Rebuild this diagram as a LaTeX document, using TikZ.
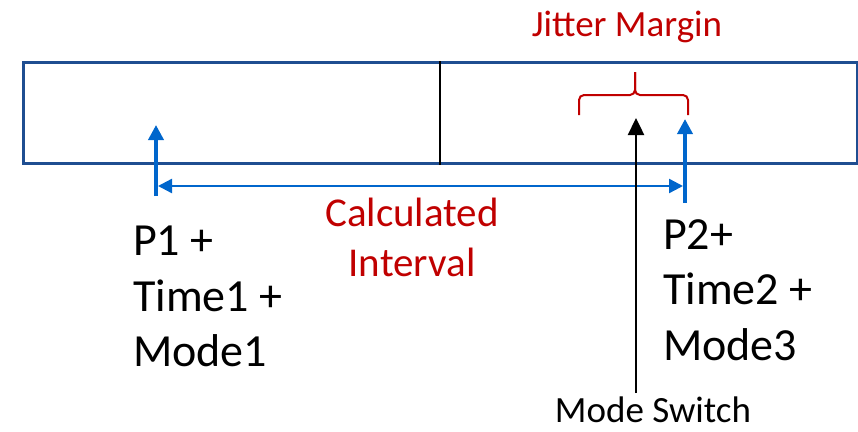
\documentclass[tikz,border=0pt]{standalone}
\usepackage{fontspec}
\setmainfont{Carlito}
\usetikzlibrary{arrows.meta}

\definecolor{frameblue}{RGB}{31,78,145}
\definecolor{arrowblue}{RGB}{0,102,204}
\definecolor{darkred}{RGB}{192,0,0}

\begin{document}
\begin{tikzpicture}[
  x=1pt, y=-1pt,
  frame/.style={draw=frameblue, line width=3pt},
  divider/.style={draw=black, line width=1.8pt},
  bigtxt/.style={inner sep=0pt, align=left, font=\fontsize{46}{55.5}\selectfont},
  redtxt/.style={inner sep=0pt, align=center, text=darkred},
  blarr/.style={-{Triangle[length=15pt, width=15pt]}, arrowblue, line width=3.6pt},
  spanarr/.style={{Triangle[length=14pt, width=14pt]}-{Triangle[length=14pt, width=14pt]},
                  arrowblue, line width=2.4pt},
  swarr/.style={-{Triangle[length=17pt, width=16pt]}, black, line width=2.4pt},
  brace/.style={draw=darkred, line width=2pt, rounded corners=5pt},
]
  \useasboundingbox (0,0) rectangle (858,431);

  %% ── Frame: two slots ──
  \node[frame, minimum width=834pt, minimum height=101pt, anchor=north west,
        inner sep=0pt] (slots) at (22,61) {};
  \draw[divider] (slots.north west -| 440,0) -- (slots.south west -| 440,0);

  %% ── End points ──
  \coordinate (p1low) at (156,196);
  \coordinate (p1tip) at (156,125);
  \coordinate (p2low) at (685,203);
  \coordinate (p2tip) at (685,119);
  \coordinate (swlow) at (636,393);
  \coordinate (swtip) at (636,118);

  %% ══════════════════════════════════════════════════════
  %% ═══ ARROWS ═══
  \draw[blarr] (p1low) -- (p1tip);
  \draw[blarr] (p2low) -- (p2tip);
  \draw[spanarr] (158,186) -- (683,186);
  \draw[swarr] (swlow) -- (swtip);

  %% Jitter brace
  \coordinate (brl) at (579,115);
  \coordinate (brr) at (688,115);
  \coordinate (brtop) at (635,72);
  \draw[brace] (brl) |- (635,95) -- (brtop);
  \draw[brace] (brr) |- (635,95) -- (brtop);

  %% ══════════════════════════════════════════════════════
  %% ═══ LABELS ═══
  \node[redtxt, anchor=north, font=\fontsize{37}{44}\selectfont] (jitter)
    at (627,11) {Jitter Margin};
  \node[redtxt, anchor=north, font=\fontsize{41}{50}\selectfont] (calc)
    at (412,198) {Calculated\\Interval};
  \node[bigtxt, anchor=north west] (p1txt) at (133,226)
    {P1 +\\Time1 +\\Mode1};
  \node[bigtxt, anchor=north west] (p2txt) at (663,219)
    {P2+\\Time2 +\\Mode3};
  \node[inner sep=0pt, anchor=north, font=\fontsize{37}{44}\selectfont] (switch)
    at (653,397) {Mode Switch};
\end{tikzpicture}
\end{document}
